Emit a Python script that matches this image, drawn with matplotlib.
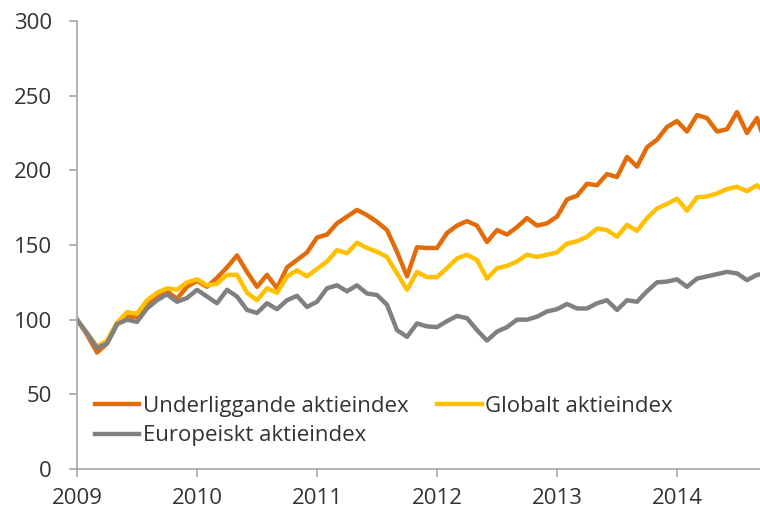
import matplotlib
matplotlib.use("Agg")
import matplotlib.pyplot as plt
import numpy as np

# monthly index values, Jan 2009 - Oct 2014
underliggande = [100, 90, 78, 84, 97, 102, 102, 111, 116, 119, 114, 122,
                 126, 122, 128, 135, 143, 132, 122, 130, 121, 135, 140, 145,
                 155, 157, 164.5, 169, 173.5, 170, 165.5, 160, 145.5, 129, 148.5, 148,
                 148, 158, 163, 166, 163, 152, 160, 157, 162, 168, 163, 164.5,
                 169, 180.5, 183, 191, 190, 197.5, 195.5, 209, 202.5, 215.5, 220.5, 229,
                 233, 226, 237, 235, 226, 227.5, 239, 225, 235, 215]
globalt = [100, 91, 82, 86, 98, 105, 104, 113, 118, 121, 120, 125,
           127, 123, 124, 130, 130, 118, 113, 121, 118, 129, 133, 129,
           134, 139, 146.5, 144.5, 151.5, 148, 145.5, 142, 131, 120, 132, 128.5,
           128.5, 134.5, 141, 143.5, 140, 127.5, 134.5, 136, 139, 143.5, 142, 143.5,
           145, 151, 152.5, 155.5, 161, 160, 155.5, 163.5, 159.5, 168, 174.5, 177.5,
           181, 173, 182, 182.5, 184.5, 187.5, 189, 186, 190, 185]
europeiskt = [100, 91, 81, 84, 97, 100, 98.5, 107.5, 113, 117, 112, 114.5,
              120, 115.5, 111, 120, 115.5, 106.5, 104.5, 111, 107, 113, 116, 108.5,
              112, 121, 123, 119, 123, 117.5, 116.5, 110, 93, 88.5, 97.5, 95.5,
              95, 99, 102.5, 101, 93, 86, 92, 95, 100, 100, 102, 105.5,
              107, 110.5, 107.5, 107.5, 111, 113, 106.5, 113, 112, 119, 125, 125.5,
              127, 122, 127.5, 129, 130.5, 132, 131, 126.5, 130, 131]

years = [2009, 2010, 2011, 2012, 2013, 2014]
series_names = ["Underliggande aktieindex", "Globalt aktieindex", "Europeiskt aktieindex"]
colors = ["#E36C0A", "#FFC000", "#808080"]

plt.rcParams['font.family'] = ['Open Sans', 'DejaVu Sans']

months = np.arange(len(underliggande))

fig = plt.figure(figsize=(7.6, 5.13), dpi=100)
ax = fig.add_axes([77 / 760, 44 / 513, 1 - 77 / 760, (469 - 21) / 513])

lines = []
for vals, name, c in zip([underliggande, globalt, europeiskt], series_names, colors):
    ln, = ax.plot(months, vals, color=c, lw=3.2, label=name, solid_joinstyle='round')
    lines.append(ln)

ax.set_xlim(0, 68.3)
ax.set_ylim(0, 300)
ax.set_yticks(np.arange(0, 301, 50))
ax.set_xticks([(y - 2009) * 12 for y in years])
ax.set_xticklabels([str(y) for y in years])

for s in ['top', 'right']:
    ax.spines[s].set_visible(False)
for s in ['left', 'bottom']:
    ax.spines[s].set_color('#A6A6A6')
    ax.spines[s].set_linewidth(1.2)
ax.tick_params(axis='both', colors='#A6A6A6', labelcolor='#333333', labelsize=16,
               length=6, width=1.2)
ax.tick_params(axis='y', pad=12)
ax.tick_params(axis='x', pad=8)

# column-wise fill: Underliggande / Europeiskt in col 1, Globalt in col 2
leg = ax.legend([lines[0], lines[2], lines[1]],
                [series_names[0], series_names[2], series_names[1]],
                ncol=2, loc='upper left', bbox_to_anchor=(95 / 760, 1 - 396 / 513),
                bbox_transform=fig.transFigure, frameon=False, fontsize=16,
                handlelength=2.0, handletextpad=0.15, columnspacing=1.3,
                labelspacing=0.38, borderpad=0, borderaxespad=0)
for t in leg.get_texts():
    t.set_color('#333333')

fig.savefig("out.png", dpi=100)
